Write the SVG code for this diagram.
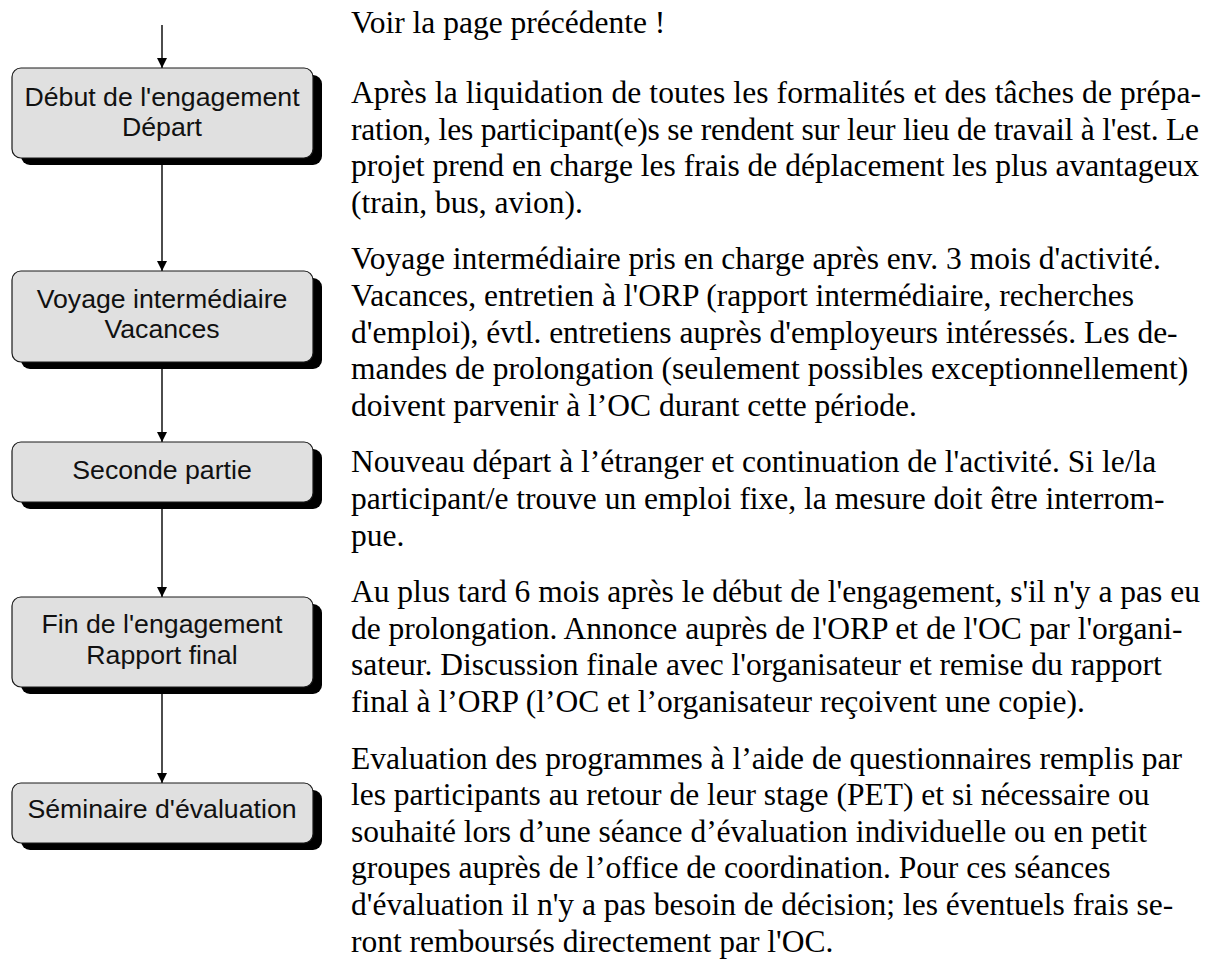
<svg xmlns="http://www.w3.org/2000/svg" width="1217" height="965" viewBox="0 0 1217 965">
<style>
.shadow{fill:#000}
.box{fill:#e0e0e0;stroke:#1a1a1a;stroke-width:1.2}
.bt{font-family:"Liberation Sans",Arial,sans-serif;font-size:26.7px;fill:#111;text-anchor:middle}
.body{font-family:"Liberation Serif","Times New Roman",serif;font-size:31.5px;fill:#000}
.conn{stroke:#000;stroke-width:1.4;fill:none}
</style>
<defs>
<marker id="ah" viewBox="0 0 10 10" refX="10" refY="5" markerWidth="10" markerHeight="10" markerUnits="userSpaceOnUse" orient="auto">
<path d="M0,0 L10,5 L0,10 z" fill="#000"/>
</marker>
</defs>
<rect width="1217" height="965" fill="#fff"/>
<g id="connectors">
<line class="conn" x1="162" y1="25" x2="162" y2="68" marker-end="url(#ah)"/>
<line class="conn" x1="162" y1="165" x2="162" y2="271" marker-end="url(#ah)"/>
<line class="conn" x1="162" y1="369" x2="162" y2="442" marker-end="url(#ah)"/>
<line class="conn" x1="162" y1="509" x2="162" y2="597" marker-end="url(#ah)"/>
<line class="conn" x1="162" y1="694" x2="162" y2="783" marker-end="url(#ah)"/>
</g>
<g id="n1">
<rect class="shadow" x="21" y="75" width="301" height="90" rx="9"/>
<rect class="box" x="12" y="68" width="301" height="90" rx="9"/>
<text class="bt" x="162" y="106">Début de l'engagement</text>
<text class="bt" x="162" y="136">Départ</text>
</g>
<g id="n2">
<rect class="shadow" x="21" y="278" width="301" height="91" rx="9"/>
<rect class="box" x="12" y="271" width="301" height="91" rx="9"/>
<text class="bt" x="162" y="308">Voyage intermédiaire</text>
<text class="bt" x="162" y="338">Vacances</text>
</g>
<g id="n3">
<rect class="shadow" x="21" y="449" width="301" height="60" rx="9"/>
<rect class="box" x="12" y="442" width="301" height="60" rx="9"/>
<text class="bt" x="162" y="479">Seconde partie</text>
</g>
<g id="n4">
<rect class="shadow" x="21" y="604" width="301" height="90" rx="9"/>
<rect class="box" x="12" y="597" width="301" height="90" rx="9"/>
<text class="bt" x="162" y="633">Fin de l'engagement</text>
<text class="bt" x="162" y="664">Rapport final</text>
</g>
<g id="n5">
<rect class="shadow" x="21" y="790" width="301" height="60" rx="9"/>
<rect class="box" x="12" y="783" width="301" height="60" rx="9"/>
<text class="bt" x="162" y="818">Séminaire d'évaluation</text>
</g>
<g id="text">
<text class="body" x="351" y="33">Voir la page précédente !</text>
<text class="body" x="351" y="103" textLength="850" lengthAdjust="spacing">Après la liquidation de toutes les formalités et des tâches de prépa-</text>
<text class="body" x="351" y="139.6" textLength="848" lengthAdjust="spacing">ration, les participant(e)s se rendent sur leur lieu de travail à l'est. Le</text>
<text class="body" x="351" y="176.2" textLength="848" lengthAdjust="spacing">projet prend en charge les frais de déplacement les plus avantageux</text>
<text class="body" x="351" y="212.8">(train, bus, avion).</text>
<text class="body" x="351" y="269.4">Voyage intermédiaire pris en charge après env. 3 mois d'activité.</text>
<text class="body" x="351" y="306">Vacances, entretien à l'ORP (rapport intermédiaire, recherches</text>
<text class="body" x="351" y="342.6">d'emploi), évtl. entretiens auprès d'employeurs intéressés. Les de-</text>
<text class="body" x="351" y="379.2">mandes de prolongation (seulement possibles exceptionnellement)</text>
<text class="body" x="351" y="415.8">doivent parvenir à l’OC durant cette période.</text>
<text class="body" x="351" y="472.4">Nouveau départ à l’étranger et continuation de l'activité. Si le/la</text>
<text class="body" x="351" y="509">participant/e trouve un emploi fixe, la mesure doit être interrom-</text>
<text class="body" x="351" y="545.6">pue.</text>
<text class="body" x="351" y="602.2">Au plus tard 6 mois après le début de l'engagement, s'il n'y a pas eu</text>
<text class="body" x="351" y="638.8">de prolongation. Annonce auprès de l'ORP et de l'OC par l'organi-</text>
<text class="body" x="351" y="675.4">sateur. Discussion finale avec l'organisateur et remise du rapport</text>
<text class="body" x="351" y="712">final à l’ORP (l’OC et l’organisateur reçoivent une copie).</text>
<text class="body" x="351" y="768.6">Evaluation des programmes à l’aide de questionnaires remplis par</text>
<text class="body" x="351" y="805.2">les participants au retour de leur stage (PET) et si nécessaire ou</text>
<text class="body" x="351" y="841.8">souhaité lors d’une séance d’évaluation individuelle ou en petit</text>
<text class="body" x="351" y="878.4">groupes auprès de l’office de coordination. Pour ces séances</text>
<text class="body" x="351" y="915">d'évaluation il n'y a pas besoin de décision; les éventuels frais se-</text>
<text class="body" x="351" y="951.6">ront remboursés directement par l'OC.</text>
</g>
</svg>
